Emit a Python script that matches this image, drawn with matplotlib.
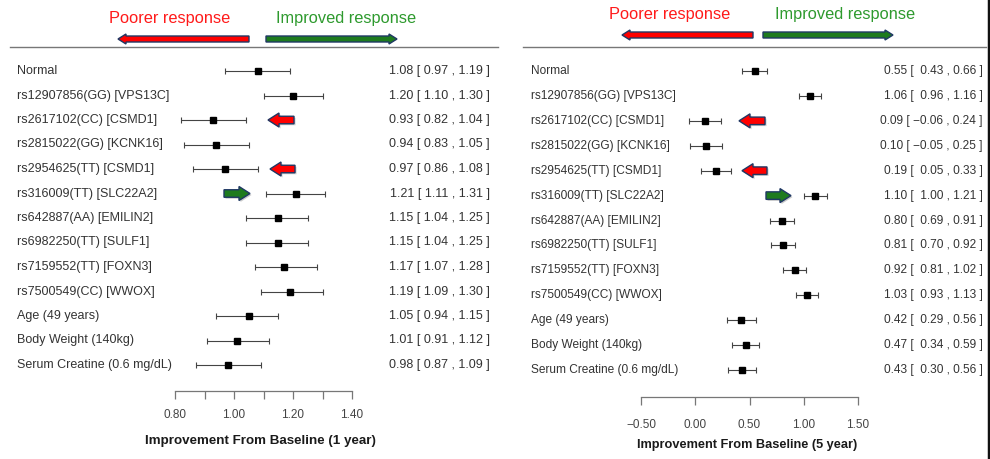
import numpy as np
import matplotlib
matplotlib.use('Agg')
import matplotlib.pyplot as plt
import matplotlib.transforms as mtransforms
from matplotlib.patches import Polygon

plt.rcParams['font.family'] = ['Liberation Sans', 'DejaVu Sans']

# rows of the forest plot (top to bottom)
labels = ['Normal', 'rs12907856(GG) [VPS13C]', 'rs2617102(CC) [CSMD1]',
          'rs2815022(GG) [KCNK16]', 'rs2954625(TT) [CSMD1]', 'rs316009(TT) [SLC22A2]',
          'rs642887(AA) [EMILIN2]', 'rs6982250(TT) [SULF1]', 'rs7159552(TT) [FOXN3]',
          'rs7500549(CC) [WWOX]', 'Age (49 years)', 'Body Weight (140kg)',
          'Serum Creatine (0.6 mg/dL)']

# 1 year
est1 = np.array([1.08, 1.20, 0.93, 0.94, 0.97, 1.21, 1.15, 1.15, 1.17, 1.19, 1.05, 1.01, 0.98])
lo1 = np.array([0.97, 1.10, 0.82, 0.83, 0.86, 1.11, 1.04, 1.04, 1.07, 1.09, 0.94, 0.91, 0.87])
hi1 = np.array([1.19, 1.30, 1.04, 1.05, 1.08, 1.31, 1.25, 1.25, 1.28, 1.30, 1.15, 1.12, 1.09])
ticks1 = [0.8, 0.9, 1.0, 1.1, 1.2, 1.3, 1.4]
ticklab1 = ['0.80', '', '1.00', '', '1.20', '', '1.40']

# 5 year
est5 = np.array([0.55, 1.06, 0.09, 0.10, 0.19, 1.10, 0.80, 0.81, 0.92, 1.03, 0.42, 0.47, 0.43])
lo5 = np.array([0.43, 0.96, -0.06, -0.05, 0.05, 1.00, 0.69, 0.70, 0.81, 0.93, 0.29, 0.34, 0.30])
hi5 = np.array([0.66, 1.16, 0.24, 0.25, 0.33, 1.21, 0.91, 0.92, 1.02, 1.13, 0.56, 0.59, 0.56])
ticks5 = [-0.5, 0.0, 0.5, 1.0, 1.5]
ticklab5 = ['\u22120.50', '0.00', '0.50', '1.00', '1.50']

# rows flagged with a small arrow: row -> poorer / improved
flag_rows = {2: 'poor', 4: 'poor', 5: 'good'}

RED = '#ff0000'
GREEN = '#1e7b1e'
EDGE = '#1f3864'


def ci_text(e, l, h):
    w = 5 if (np.array(l) < 0).any() else 4
    out = []
    for a, b, c in zip(e, l, h):
        s = f'{a:.2f} [ {b:{w}.2f} , {c:.2f} ]'
        out.append(s.replace('-', '\u2212'))
    return out


fig = plt.figure(figsize=(9.9, 4.59), dpi=100)
ov = fig.add_axes([0, 0, 1, 1])
ov.set_xlim(0, 990)
ov.set_ylim(459, 0)
ov.axis('off')


def arrow(x_tail, x_tip, y, body, head, hlen, fc, lw=1.0, shadow=False):
    d = np.sign(x_tip - x_tail)
    neck = x_tip - d * hlen
    pts = [(x_tail, y - body / 2), (neck, y - body / 2), (neck, y - head / 2),
           (x_tip, y), (neck, y + head / 2), (neck, y + body / 2), (x_tail, y + body / 2)]
    if shadow:
        sp = [(px + 1.5, py + 1.5) for px, py in pts]
        ov.add_patch(Polygon(sp, closed=True, fc='#999999', ec='none', alpha=0.5))
    ov.add_patch(Polygon(pts, closed=True, fc=fc, ec=EDGE, lw=lw, joinstyle='miter'))


def panel(x0, x1, px_ref, val_ref, px_per_unit, row0, row_step, est, lo, hi,
          ticks, ticklab, axis_y, tick_pad, fs, label_x, ci_x, xlabel, xlabel_xy, xlabel_fs,
          head_text, arrows_big, arrows_small):
    ax = fig.add_axes([x0 / 990, 0, (x1 - x0) / 990, 1])
    to_val = lambda px: val_ref + (px - px_ref) / px_per_unit
    to_row = lambda py: (py - row0) / row_step
    ax.set_xlim(to_val(x0), to_val(x1))
    ax.set_ylim(to_row(459), to_row(0))
    ax.patch.set_alpha(0)
    rows = np.arange(len(labels))
    ax.errorbar(est, rows, xerr=[est - lo, hi - est], fmt='s', color='black',
                ecolor='#444444', elinewidth=0.8, capsize=2.5, capthick=0.8, ms=4)
    for s in ['top', 'left', 'right']:
        ax.spines[s].set_visible(False)
    ax.spines['bottom'].set_position(('data', to_row(axis_y)))
    ax.spines['bottom'].set_bounds(ticks[0], ticks[-1])
    ax.spines['bottom'].set_color('#777777')
    ax.spines['bottom'].set_linewidth(0.9)
    ax.set_yticks([])
    ax.set_xticks(ticks)
    ax.set_xticklabels(ticklab)
    ax.tick_params(axis='x', direction='out', length=6, width=0.9, color='#777777',
                   labelsize=8.5, labelcolor='#444444', pad=tick_pad)
    tr = mtransforms.blended_transform_factory(ax.transAxes, ax.transData)
    w = x1 - x0
    for r, lab in enumerate(labels):
        ax.text((label_x - x0) / w, r, lab, transform=tr, fontsize=fs,
                color='#333333', ha='left', va='center')
    for r, s in enumerate(ci_text(est, lo, hi)):
        ax.text((ci_x - x0) / w, r, s, transform=tr, fontsize=fs,
                color='#333333', ha='right', va='center')
    ov.text(xlabel_xy[0], xlabel_xy[1], xlabel, ha='center', va='center',
            fontsize=xlabel_fs, fontweight='bold', color='#1a1a1a')
    (px_poor, py_head), (px_good, _) = head_text
    ov.text(px_poor, py_head, 'Poorer response', color='#ff1a1a', fontsize=11.8,
            ha='center', va='center')
    ov.text(px_good, py_head, 'Improved response', color='#2e9a2e', fontsize=11.8,
            ha='center', va='center')
    for xt, xp, yb, fc in arrows_big:
        arrow(xt, xp, yb, 6, 10, 8, fc)
    for r, (xt, xp) in arrows_small.items():
        fc = RED if flag_rows[r] == 'poor' else GREEN
        arrow(xt, xp, row0 + r * row_step, 7.5, 14, 11, fc, shadow=True)
    return ax


panel(0, 495, 175, 0.8, 295, 71, 24.5, est1, lo1, hi1, ticks1, ticklab1,
      391, 7, 9, 17, 490, 'Improvement From Baseline (1 year)', (260, 441), 9.6,
      ((170, 18), (346, 18)),
      [(249, 118, 39, RED), (266, 397, 39, GREEN)],
      {2: (294, 268), 4: (295, 270), 5: (224, 250)})

panel(495, 990, 641, -0.5, 108.5, 71, 24.92, est5, lo5, hi5, ticks5, ticklab5,
      397, 10, 8.6, 531, 983, 'Improvement From Baseline (5 year)', (747, 445), 9.2,
      ((670, 15), (845, 15)),
      [(753, 622, 35, RED), (763, 893, 35, GREEN)],
      {2: (765, 739), 4: (767, 742), 5: (766, 791)})

# header rules and right border
ov.plot([10, 498], [47, 47], color='#777777', lw=1)
ov.plot([523, 986], [47, 47], color='#777777', lw=1)
ov.plot([988.5, 988.5], [0, 459], color='#111111', lw=2.5)

fig.savefig('out.png', dpi=100)
